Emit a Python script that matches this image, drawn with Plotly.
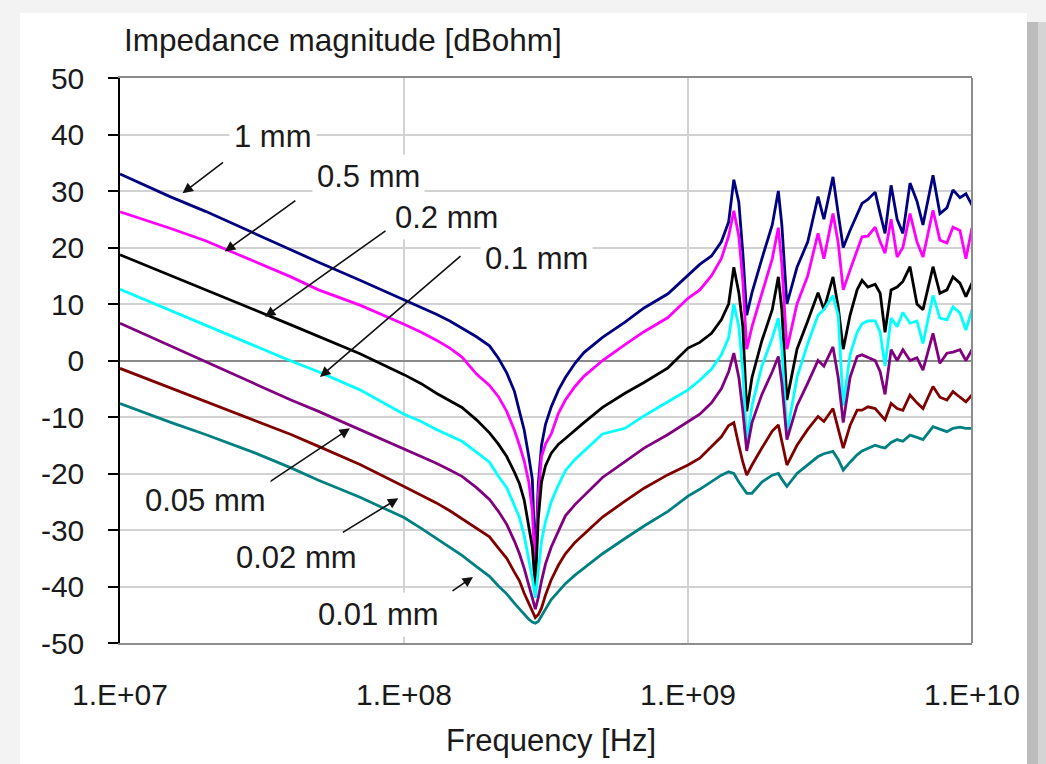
import numpy as np
import plotly.graph_objects as go

# ---------------- data ----------------
freq_hz = [
    1.0e7, 1.5e7, 2.0e7, 3.0e7, 4.0e7, 5.0e7, 7.0e7,
    1.0e8, 1.15e8, 1.3e8, 1.45e8, 1.6e8, 1.8e8,
    2.0e8, 2.15e8, 2.3e8, 2.45e8, 2.55e8, 2.65e8, 2.75e8, 2.83e8, 2.9e8, 2.97e8,
    3.05e8, 3.15e8, 3.3e8, 3.5e8, 3.7e8, 4.0e8, 4.3e8,
    5.0e8, 6.0e8, 7.0e8, 8.5e8,
    1.00e9, 1.10e9, 1.21e9, 1.31e9, 1.39e9, 1.45e9, 1.51e9, 1.56e9, 1.61e9, 1.68e9,
    1.82e9, 1.98e9, 2.08e9, 2.14e9, 2.23e9, 2.42e9, 2.64e9, 2.87e9, 3.01e9, 3.24e9,
    3.38e9, 3.52e9, 3.72e9, 3.94e9, 4.10e9, 4.30e9, 4.56e9, 4.75e9, 4.94e9, 5.19e9,
    5.45e9, 5.71e9, 6.05e9, 6.40e9, 6.72e9, 7.29e9, 7.71e9, 8.16e9, 8.57e9, 9.07e9,
    9.52e9, 1.0e10,
]

z_1mm = [
    33.0, 29.0, 26.4, 22.4, 19.6, 17.4, 14.2,
    10.8, 9.4, 8.2, 7.0, 5.7, 4.2,
    2.6, 0.4, -2.2, -5.5, -9.0, -12.3, -17.0, -21.0, -36.0, -22.0,
    -15.0, -11.3, -8.2, -5.2, -3.0, -0.5, 1.4,
    4.1, 6.8, 9.3, 11.8,
    15.0, 17.0, 18.5, 21.0, 24.5, 32.0, 28.0, 19.0, 8.0, 12.0,
    18.0, 24.0, 30.0, 24.0, 10.0, 16.5, 21.0, 29.0, 25.0, 32.5,
    26.0, 20.0, 23.0, 26.0, 27.8, 28.5, 29.8, 26.0, 22.5, 31.0,
    25.0, 22.5, 31.4, 28.2, 24.0, 32.8, 26.0, 27.0, 30.2, 28.8,
    29.5, 27.5,
]
z_05mm = [
    26.3, 23.4, 21.2, 17.5, 14.8, 12.5, 9.8,
    6.4, 5.0, 3.6, 2.2, 0.6, -2.4,
    -4.4, -6.4, -9.0, -12.4, -15.0, -17.8, -21.5, -26.5, -38.0, -24.0,
    -17.0, -14.8, -13.0, -9.3, -7.0, -4.6, -2.8,
    0.0, 2.8, 5.1, 7.6,
    11.0, 12.5, 15.0, 18.0, 22.0, 26.5, 22.0, 14.0, 2.0, 6.0,
    12.0, 18.0, 23.5, 17.0, 2.0, 10.0, 15.0, 22.5, 18.0, 26.0,
    20.8, 12.5, 16.0, 19.5, 21.9, 22.0, 23.6, 21.0, 19.0, 25.0,
    18.3, 20.0, 26.0, 21.0, 18.3, 26.6, 21.3, 20.8, 23.6, 23.0,
    18.0, 23.5,
]
z_02mm = [
    18.7, 15.1, 12.6, 8.9, 6.3, 4.3, 1.2,
    -2.5, -4.1, -5.8, -7.1, -8.3, -10.5,
    -12.8, -14.8, -17.0, -19.8, -21.8, -24.7, -29.0, -33.0, -40.0, -28.0,
    -21.5, -18.6, -16.4, -14.8, -13.8, -12.3, -11.0,
    -8.3, -5.8, -3.9, -1.3,
    2.2, 3.2, 4.8, 7.2, 10.0, 16.5, 12.0, 6.0, -9.0, -3.0,
    3.5, 9.0, 14.8, 9.0, -7.0, 2.0, 7.0, 12.0, 9.0, 14.8,
    9.5, 2.0, 8.0, 12.5, 14.2, 13.0, 13.5, 11.9, 5.0, 12.5,
    13.0, 14.0, 16.6, 10.0, 9.0, 16.6, 11.9, 12.5, 14.8, 13.7,
    11.3, 13.7,
]
z_01mm = [
    12.6, 8.9, 6.3, 2.5, -0.1, -2.0, -5.2,
    -9.5, -10.8, -12.2, -13.3, -14.3, -16.2,
    -18.0, -20.5, -22.5, -25.7, -27.8, -31.0, -35.0, -38.5, -42.0, -37.0,
    -32.0, -28.5, -25.0, -22.0, -19.5, -17.5, -16.0,
    -13.0, -12.0, -9.8, -7.3,
    -5.2, -3.5, -1.5, 1.0, 4.0, 10.0, 6.0, -2.0, -14.5, -8.0,
    -1.0, 4.0, 7.5, 2.0, -13.0, -3.0, 3.0, 8.0, 9.0, 11.5,
    8.0, -8.0, 1.0, 5.0, 6.5, 7.0, 7.0, 5.0, -1.0, 7.5,
    6.0, 8.5, 6.6, 7.0, 3.0, 11.5, 7.5, 7.2, 9.5, 8.4,
    5.4, 9.0,
]
z_005mm = [
    6.6, 2.6, -0.2, -4.2, -7.0, -9.0, -12.2,
    -15.6, -17.0, -18.2, -19.4, -20.5, -22.5,
    -24.6, -26.7, -29.0, -32.0, -34.2, -36.8, -39.5, -42.0, -44.0, -42.0,
    -39.0, -36.0, -33.0, -30.0, -27.5, -25.5, -24.0,
    -20.7, -17.9, -15.5, -13.1,
    -10.8, -9.5, -7.5, -5.0, -2.0, 1.3, -3.0, -9.0, -16.0, -11.0,
    -6.0, -2.0, 0.7, -4.0, -14.0, -8.0, -4.0, 0.0, -1.0, 2.4,
    -3.0, -11.0, -3.0, 0.7, 1.0, 0.5, 0.0, -2.0, -6.0, 1.9,
    0.0, 1.9, 0.0, 0.5, -1.7, 4.8, -0.5, 1.3, 1.5, 1.9,
    0.0, 1.9,
]
z_002mm = [
    -1.4, -4.8, -7.2, -10.6, -13.1, -15.2, -18.4,
    -22.3, -23.8, -25.2, -26.6, -28.0, -29.7,
    -31.2, -33.2, -35.0, -37.5, -39.0, -41.2, -43.0, -44.5, -45.5, -45.0,
    -43.8, -41.5, -38.8, -36.2, -34.2, -32.2, -30.7,
    -27.7, -24.9, -22.6, -20.2,
    -18.5, -17.3, -15.3, -13.5, -11.5, -11.0, -15.0, -18.0, -20.3, -18.5,
    -15.5, -12.5, -11.4, -14.5, -18.5, -15.0, -12.2, -9.9, -10.8, -8.5,
    -12.0, -15.5, -11.5, -8.8, -8.8, -8.2, -8.5, -9.5, -10.5, -7.6,
    -8.5, -8.8, -6.1, -7.5, -8.5, -4.6, -6.5, -7.0, -5.5, -6.5,
    -7.3, -6.1,
]
z_001mm = [
    -7.6, -10.9, -13.1, -16.4, -19.0, -21.2, -24.2,
    -27.8, -29.7, -31.5, -33.0, -34.5, -36.5,
    -38.2, -39.9, -41.3, -43.0, -44.0, -45.0, -45.8, -46.3, -46.5, -46.2,
    -45.3, -44.0, -42.3, -40.8, -39.5, -38.0, -36.8,
    -34.2, -31.5, -29.3, -26.7,
    -24.0, -22.8, -21.5, -20.3, -19.7, -20.0, -21.5, -22.5, -23.5, -23.5,
    -21.5, -20.3, -20.0, -21.0, -22.3, -20.0, -18.5, -17.0, -16.5, -16.1,
    -17.5, -19.4, -18.0, -16.7, -16.0, -15.5, -15.0, -15.3, -15.5, -14.5,
    -14.0, -14.3, -13.2, -13.6, -14.0, -11.7, -12.2, -12.6, -12.0, -11.8,
    -12.0, -12.0,
]

series_names = ["1 mm", "0.5 mm", "0.2 mm", "0.1 mm", "0.05 mm", "0.02 mm", "0.01 mm"]
series_values = [z_1mm, z_05mm, z_02mm, z_01mm, z_005mm, z_002mm, z_001mm]
series_colors = ["#000080", "#ff00ff", "#000000", "#00ffff", "#800080", "#800000", "#008080"]

x_tick_vals = [1e7, 1e8, 1e9, 1e10]
x_tick_text = ["1.E+07", "1.E+08", "1.E+09", "1.E+10"]
y_tick_vals = [-50, -40, -30, -20, -10, 0, 10, 20, 30, 40, 50]
y_tick_text = ["-50", "-40", "-30", "-20", "-10", "0", "10", "20", "30", "40", "50"]

# label text centres (freq, dB) and arrow tips (freq, dB) + tail offsets (px)
label_freq = [3.46e7, 7.47e7, 1.417e8, 2.916e8, 2.008e7, 4.17e7, 8.1e7]
label_db = [39.6, 32.5, 25.3, 18.0, -24.7, -34.8, -44.9]
tip_freq = [1.66e7, 2.34e7, 3.24e7, 5.06e7, 6.45e7, 9.55e7, 1.75e8]
tip_db = [29.6, 19.3, 7.75, -2.9, -12.0, -24.4, -38.3]
tail_dx = [42, 72, 122, 142, -87, -57, -22]
tail_dy = [-32, -52, -87, -122, 58, 35, 15]

# ---------------- figure ----------------
FONT = "Liberation Sans, Arial, sans-serif"
TXT = "#1a1a1a"
W, H = 1046, 764
L, R, T, B = 120, 74, 78, 121
pw, ph = W - L - R, H - T - B


def px2paper_x(px):
    return (px - L) / pw


def px2paper_y(py):
    return (H - B - py) / ph


fig = go.Figure()
for name, vals, col in zip(series_names, series_values, series_colors):
    fig.add_trace(go.Scatter(x=freq_hz, y=vals, mode="lines", name=name,
                             line=dict(color=col, width=2.8)))

annotations = []
for i in range(len(series_names)):
    annotations.append(dict(
        x=np.log10(tip_freq[i]), y=tip_db[i], xref="x", yref="y",
        text="", showarrow=True, ax=tail_dx[i], ay=tail_dy[i],
        arrowhead=2, arrowsize=1.3, arrowwidth=1.6, arrowcolor="#111111"))
for i, name in enumerate(series_names):
    annotations.append(dict(
        x=np.log10(label_freq[i]), y=label_db[i], xref="x", yref="y",
        text=name, showarrow=False, bgcolor="white", borderpad=4,
        font=dict(family=FONT, size=31, color=TXT)))

annotations.append(dict(
    x=px2paper_x(122), y=px2paper_y(40), xref="paper", yref="paper",
    xanchor="left", yanchor="middle", text="Impedance magnitude [dBohm]",
    showarrow=False, font=dict(family=FONT, size=31.5, color=TXT)))
annotations.append(dict(
    x=px2paper_x(551), y=px2paper_y(740), xref="paper", yref="paper",
    xanchor="center", yanchor="middle", text="Frequency [Hz]",
    showarrow=False, font=dict(family=FONT, size=31, color=TXT)))

shapes = [
    dict(type="rect", xref="paper", yref="paper", layer="below",
         x0=px2paper_x(20), x1=px2paper_x(1027), y0=px2paper_y(H + 5), y1=px2paper_y(13),
         fillcolor="white", line=dict(width=0)),
    dict(type="rect", xref="paper", yref="paper", layer="below",
         x0=px2paper_x(1027), x1=px2paper_x(1038), y0=px2paper_y(H + 5), y1=px2paper_y(22),
         fillcolor="#bcbcbc", line=dict(width=0)),
    dict(type="rect", xref="paper", yref="paper", layer="below",
         x0=px2paper_x(1038), x1=px2paper_x(W + 5), y0=px2paper_y(H + 5), y1=px2paper_y(22),
         fillcolor="#d4d4d4", line=dict(width=0)),
    dict(type="line", xref="paper", yref="paper", x0=1, x1=1, y0=0, y1=1,
         line=dict(color="#8c8c8c", width=2)),
]

fig.update_layout(
    width=W, height=H,
    margin=dict(l=L, r=R, t=T, b=B),
    paper_bgcolor="#f3f3f3", plot_bgcolor="white",
    showlegend=False,
    annotations=annotations, shapes=shapes,
    font=dict(family=FONT, size=30, color=TXT),
)
fig.update_xaxes(
    type="log", range=[7, 10], tickvals=x_tick_vals, ticktext=x_tick_text,
    showgrid=True, gridcolor="#d2d2d2", gridwidth=1.5,
    showline=True, linecolor="#8c8c8c", linewidth=2, mirror=True,
    ticks="", ticklabelstandoff=24,
    tickfont=dict(family=FONT, size=30, color=TXT),
)
fig.update_yaxes(
    range=[-50, 50], tickvals=y_tick_vals, ticktext=y_tick_text,
    showgrid=True, gridcolor="#d2d2d2", gridwidth=1.5,
    zeroline=True, zerolinecolor="#8a8a8a", zerolinewidth=1.5,
    showline=True, linecolor="#000000", linewidth=1.5,
    ticks="outside", ticklen=10, tickwidth=1.5, tickcolor="#000000",
    ticklabelstandoff=18,
    tickfont=dict(family=FONT, size=30, color=TXT),
)

fig.write_html("out.html")
